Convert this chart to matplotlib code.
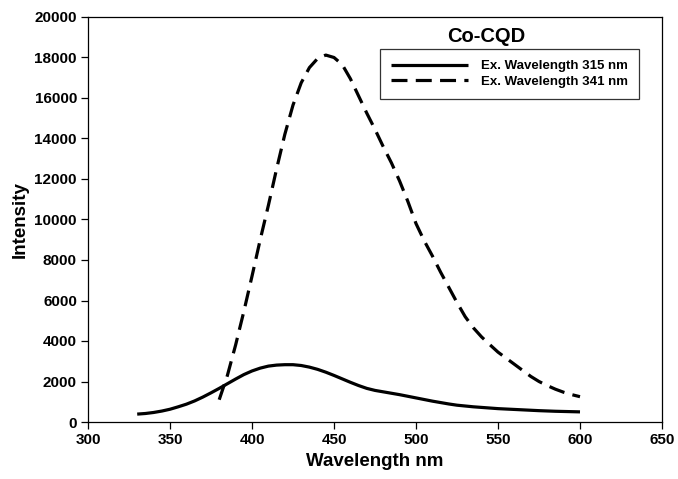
import matplotlib
matplotlib.use("Agg")
import matplotlib.pyplot as plt

plt.rcParams['font.family'] = ['Liberation Sans', 'DejaVu Sans']
plt.rcParams['font.weight'] = 'bold'

# emission spectra
wl_315 = [330, 335, 340, 345, 350, 355, 360, 365, 370, 375, 380, 385, 390,
          395, 400, 405, 410, 415, 420, 425, 430, 435, 440, 445, 450, 455,
          460, 465, 470, 475, 480, 485, 490, 495, 500, 505, 510, 515, 520,
          525, 530, 535, 540, 545, 550, 555, 560, 565, 570, 575, 580, 585,
          590, 595, 600]
int_315 = [390, 420, 470, 540, 630, 750, 880, 1040, 1230, 1440, 1660, 1890,
           2120, 2340, 2520, 2660, 2760, 2810, 2830, 2830, 2790, 2710, 2600,
           2460, 2300, 2130, 1960, 1800, 1660, 1560, 1490, 1420, 1350, 1270,
           1190, 1110, 1030, 960, 890, 830, 790, 750, 720, 690, 660, 640, 620,
           600, 580, 560, 545, 530, 520, 510, 500]

wl_341 = [380, 385, 390, 395, 400, 405, 410, 415, 420, 425, 430, 435, 440,
          445, 450, 455, 460, 465, 470, 475, 480, 485, 490, 495, 500, 505,
          510, 515, 520, 525, 530, 535, 540, 545, 550, 555, 560, 565, 570,
          575, 580, 585, 590, 595, 600]
int_341 = [1100, 2300, 3800, 5450, 7200, 9000, 10700, 12500, 14200, 15650,
           16750, 17500, 17950, 18120, 18000, 17650, 16950, 16100, 15250,
           14450, 13600, 12800, 11900, 10900, 9800, 8950, 8200, 7400, 6650,
           5900, 5200, 4650, 4200, 3820, 3450, 3150, 2850, 2550, 2250, 2000,
           1800, 1620, 1470, 1350, 1250]

fig = plt.figure(figsize=(6.78, 4.79), dpi=100)
ax = fig.add_axes([88 / 678, 1 - 422 / 479, (662 - 88) / 678, (422 - 17) / 479])

ax.plot(wl_315, int_315, color='black', lw=2.3, solid_capstyle='butt',
        label='Ex. Wavelength 315 nm')
ax.plot(wl_341, int_341, color='black', lw=2.3, dashes=(5, 2.6),
        dash_capstyle='butt', label='Ex. Wavelength 341 nm')

ax.set_xlim(300, 650)
ax.set_ylim(0, 20000)
ax.set_xticks(range(300, 651, 50))
ax.set_yticks(range(0, 20001, 2000))
ax.tick_params(direction='out', length=5, width=0.9, labelsize=11, pad=3)
for s in ax.spines.values():
    s.set_linewidth(0.9)

ax.set_xlabel('Wavelength nm', fontsize=13.5, fontweight='bold', labelpad=4)
ax.set_ylabel('Intensity', fontsize=13.5, fontweight='bold', labelpad=4)

ax.text(543, 19050, 'Co-CQD', fontsize=14.5, fontweight='bold',
        ha='center', va='center')

leg = ax.legend(loc='upper left', bbox_to_anchor=((380 - 88) / 574, 1 - (49 - 17) / 405),
                frameon=True, fancybox=False, edgecolor='black', fontsize=9.5,
                handlelength=5.8, handletextpad=1.0, borderpad=0.85,
                labelspacing=0.25, borderaxespad=0)
leg.get_frame().set_linewidth(0.9)
for t in leg.get_texts():
    t.set_fontweight('bold')

fig.savefig('out.png', dpi=100)
